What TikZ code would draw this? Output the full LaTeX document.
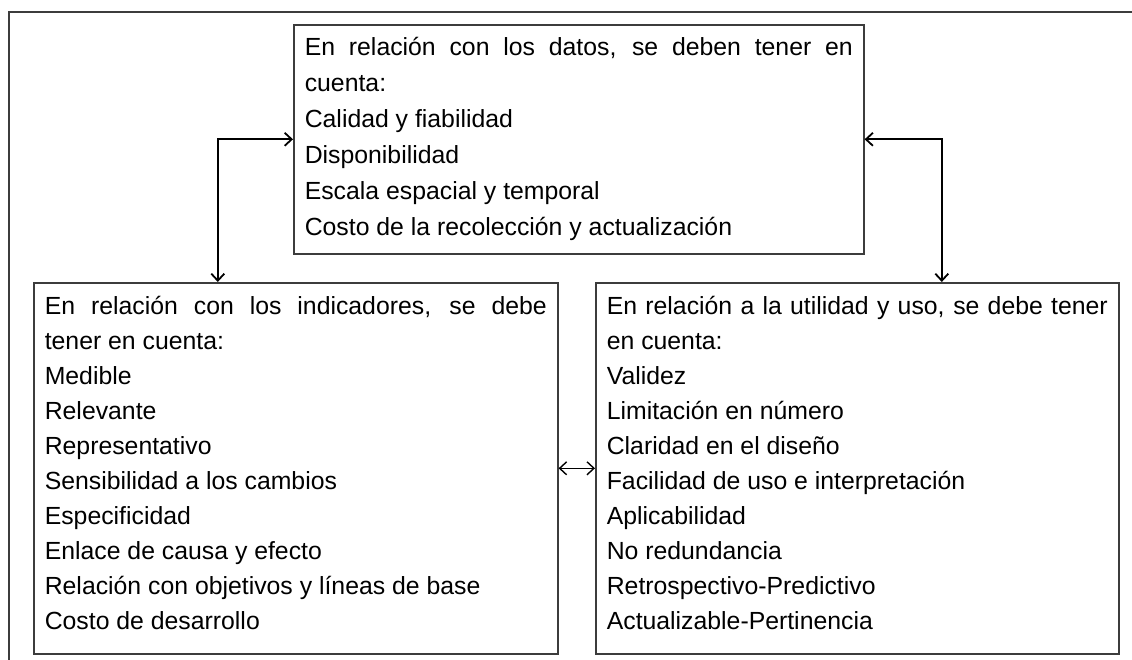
\documentclass[tikz,border=0pt]{standalone}
\usepackage{fontspec}
\setmainfont{Liberation Sans}
\usetikzlibrary{arrows.meta}
\definecolor{boxgray}{HTML}{3C3C3C}
\newcommand{\lowgap}{\rule[-10pt]{0pt}{10pt}}
\begin{document}
\begin{tikzpicture}[x=1pt, y=-1pt,
                every node/.style = {draw=boxgray, line width=1.6pt, anchor=north west,
                    align=justify, inner xsep=11pt, inner ysep=0pt,
                    font=\fontsize{24.8}{35}\selectfont},
                link/.style = {line width=1.8pt,
                    {Straight Barb[length=7pt,width=13pt]}-{Straight Barb[length=7pt,width=13pt]}}
            ]
            \useasboundingbox (0,0) rectangle (1132,660);
            \draw[boxgray, line width=1.4pt] (1132,12) -- (9,12) -- (9,660);
            \node (datos) at (293,24) [text width=548pt, minimum height=229pt,
                    font=\fontsize{24.8}{36}\selectfont]
                {En relación con los datos, se deben tener en\linebreak cuenta:\\
                Calidad y fiabilidad\\
                Disponibilidad\\
                Escala espacial y temporal\\
                Costo de la recolección y actualización};
            \node (indicadores) at (33,282) [text width=502pt, minimum height=371pt]
                {En relación con los indicadores, se debe\linebreak tener en cuenta:\\
                Medible\\
                Relevante\\
                Representativo\\
                Sensibilidad a los cambios\\
                Especificidad\\
                Enlace de causa y efecto\\
                Relación con objetivos y líneas de base\\
                Costo de desarrollo\lowgap};
            \node (utilidad) at (595,282) [text width=501pt, minimum height=371pt]
                {En relación a la utilidad y uso, se debe tener\linebreak en cuenta:\\
                Validez\\
                Limitación en número\\
                Claridad en el diseño\\
                Facilidad de uso e interpretación\\
                Aplicabilidad\\
                No redundancia\\
                Retrospectivo-Predictivo\\
                Actualizable-Pertinencia\lowgap};
            \draw[link] (datos.west) -| ([xshift=-78pt]indicadores.north);
            \draw[link] (datos.east) -| ([xshift=84.5pt]utilidad.north);
            \draw[link, line width=1.4pt] (indicadores.east) -- (utilidad.west);
        \end{tikzpicture}
\end{document}
